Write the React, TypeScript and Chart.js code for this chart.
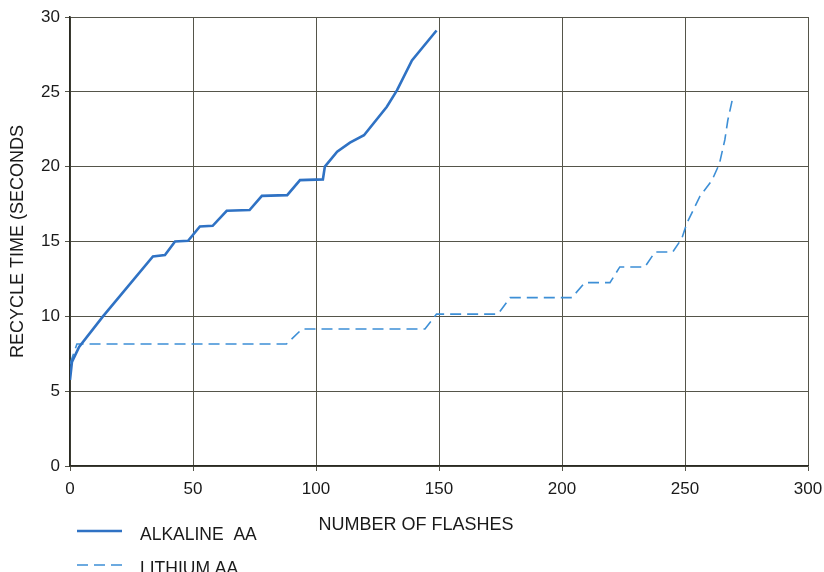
import React, { useEffect, useRef } from "react";
import { Chart, registerables } from "chart.js";

Chart.register(...registerables);

const alkalineX = [0, 0.8, 3.7, 13.4, 33.7, 38.6, 42.7, 48, 52.8, 58, 63.7, 73, 78, 88.3, 93.5, 102.8, 103.6, 108.6, 113.8, 119.5, 128.8, 132.9, 139, 149];
const alkalineY = [5.75, 6.95, 7.95, 10, 14.0, 14.1, 15.0, 15.05, 16.0, 16.05, 17.05, 17.1, 18.05, 18.1, 19.1, 19.15, 20.0, 21.0, 21.6, 22.1, 24.0, 25.1, 27.1, 29.1];

const lithiumX = [0, 2.8, 88, 94.3, 144.3, 149, 174, 178.9, 204, 209.3, 219.5, 223.5, 233.7, 237.8, 245, 248.7, 250.7, 256, 261, 264, 266.2, 267.4, 269.4];
const lithiumY = [6.8, 8.15, 8.15, 9.15, 9.15, 10.15, 10.15, 11.25, 11.25, 12.25, 12.25, 13.3, 13.3, 14.3, 14.3, 15.2, 16.2, 18, 19.1, 20.2, 21.8, 23.1, 24.6];

const seriesLabels = ["ALKALINE  AA", "LITHIUM AA"];
const xTitle = "NUMBER OF FLASHES";
const yTitle = "RECYCLE TIME (SECONDS";

const FONT = "'Liberation Sans', Arial, Helvetica, sans-serif";
const TEXT = "#1a1a1a";

const toPoints = (xs: number[], ys: number[]) => xs.map((x, i) => ({ x, y: ys[i] }));

const overlayPlugin = {
  id: "overlay",
  afterDraw(chart: any) {
    const ctx = chart.ctx;
    const area = chart.chartArea;
    ctx.save();
    ctx.fillStyle = TEXT;
    ctx.font = `18px ${FONT}`;
    ctx.textBaseline = "middle";
    ctx.textAlign = "center";
    ctx.fillText(xTitle, 416, 525);
    ctx.save();
    ctx.translate(18, (area.top + area.bottom) / 2);
    ctx.rotate(-Math.PI / 2);
    ctx.fillText(yTitle, 0, 0);
    ctx.restore();
    const rows = [531, 565];
    chart.data.datasets.forEach((ds: any, i: number) => {
      const y = rows[i];
      ctx.save();
      ctx.strokeStyle = ds.borderColor;
      ctx.lineWidth = ds.borderWidth;
      ctx.setLineDash(ds.borderDash || []);
      ctx.beginPath();
      ctx.moveTo(77, y);
      ctx.lineTo(122, y);
      ctx.stroke();
      ctx.restore();
      ctx.fillStyle = TEXT;
      ctx.font = `17.5px ${FONT}`;
      ctx.textAlign = "left";
      ctx.fillText(ds.label, 140, y + 4);
    });
    ctx.restore();
  },
};

export default function App() {
  const ref = useRef<HTMLCanvasElement | null>(null);
  useEffect(() => {
    if (!ref.current) return;
    const chart = new Chart(ref.current, {
      type: "line",
      data: {
        datasets: [
          {
            label: seriesLabels[0],
            data: toPoints(alkalineX, alkalineY),
            borderColor: "#2f72c4",
            borderWidth: 2.6,
            pointRadius: 0,
            tension: 0,
            fill: false,
          },
          {
            label: seriesLabels[1],
            data: toPoints(lithiumX, lithiumY),
            borderColor: "#3d8fd6",
            borderWidth: 1.6,
            borderDash: [11, 6],
            pointRadius: 0,
            tension: 0,
            fill: false,
          },
        ],
      },
      options: {
        responsive: false,
        animation: false,
        layout: { padding: { top: 17, right: 16, left: 0, bottom: 0 } },
        plugins: { legend: { display: false }, tooltip: { enabled: false } },
        scales: {
          x: {
            type: "linear",
            min: 0,
            max: 300,
            ticks: { stepSize: 50, color: TEXT, font: { family: FONT, size: 17 }, padding: 8, maxRotation: 0 },
            grid: { color: "#55554a", lineWidth: 1, tickLength: 5 },
            border: { color: "#2a2a22", width: 1.6 },
            afterFit: (s: any) => {
              s.height = 106;
              s.paddingLeft = 0;
              s.paddingRight = 0;
            },
          },
          y: {
            type: "linear",
            min: 0,
            max: 30,
            ticks: { stepSize: 5, color: TEXT, font: { family: FONT, size: 17 }, padding: 5 },
            grid: { color: "#55554a", lineWidth: 1, tickLength: 5 },
            border: { color: "#2a2a22", width: 1.6 },
            afterFit: (s: any) => {
              s.width = 70;
              s.paddingTop = 0;
              s.paddingBottom = 0;
            },
          },
        },
      },
      plugins: [overlayPlugin],
    });
    return () => chart.destroy();
  }, []);
  return (
    <div style={{ position: "absolute", left: 0, top: 0, width: 824, height: 572, background: "#fff" }}>
      <canvas ref={ref} width={824} height={572} style={{ width: 824, height: 572 }} />
    </div>
  );
}
